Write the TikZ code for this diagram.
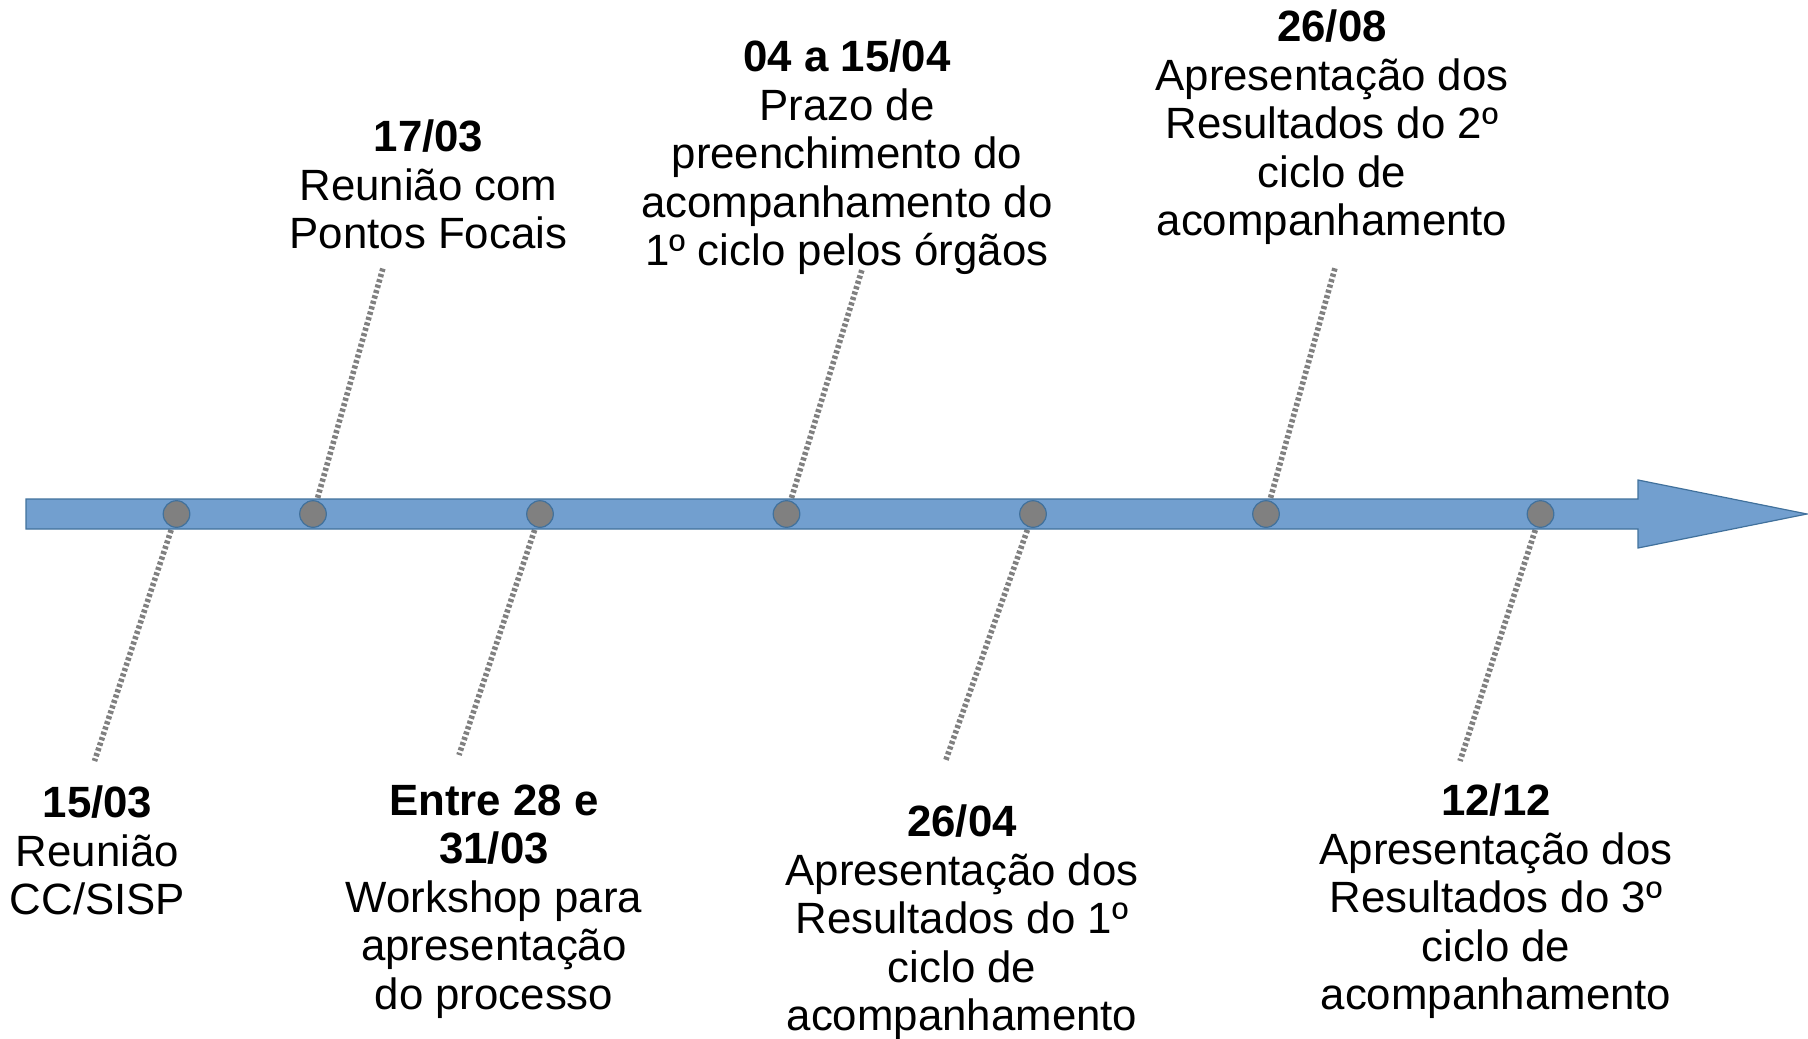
\documentclass[tikz,border=0pt]{standalone}
\usepackage{fontspec}
\setmainfont{Liberation Sans}
\definecolor{shaftfill}{RGB}{114,159,207}
\definecolor{shaftedge}{RGB}{65,113,156}
\definecolor{dotgray}{RGB}{128,128,128}
\tikzset{
  lbl/.style={anchor=north, inner sep=0pt, align=center, text=black,
    font=\fontsize{21.9}{24.25}\selectfont},
  tick/.style={draw=dotgray, line width=2.8pt, dash pattern=on 1.6pt off 1.2pt},
  ev/.style={circle, fill=dotgray, draw=shaftedge, line width=0.6pt,
    minimum size=13.3pt, inner sep=0pt},
  timeline/.style={fill=shaftfill, draw=shaftedge, line width=0.6pt}
}
\newcommand{\firstl}{\rule{0pt}{17pt}}
\begin{document}
\begin{tikzpicture}[x=0.5pt, y=-0.5pt]
\useasboundingbox (0,0) rectangle (1808,1038);
% event positions
\coordinate (p1) at (176.5,514);
\coordinate (p2) at (313,514);
\coordinate (p3) at (540,514);
\coordinate (p4) at (786.5,514);
\coordinate (p5) at (1033,514);
\coordinate (p6) at (1266,514);
\coordinate (p7) at (1540.5,514);
% ends of the dotted ticks
\coordinate (e1) at (94.5,761);
\coordinate (e2) at (383,268);
\coordinate (e3) at (459,755);
\coordinate (e4) at (862.5,268);
\coordinate (e5) at (945.5,761);
\coordinate (e6) at (1335,268);
\coordinate (e7) at (1460,761);
% ticks
\foreach \i in {1,...,7} { \draw[tick] (p\i) -- (e\i); }
% arrow
\path[timeline] (26,499) -- (1638,499) -- (1638,480) -- (1807,514)
  -- (1638,548) -- (1638,529) -- (26,529) -- cycle;
% dots
\foreach \i in {1,...,7} { \node[ev] (d\i) at (p\i) {}; }
% labels
\node[lbl] (t1) at (97.5,783.5) {\firstl\textbf{15/03}\\Reunião\\CC/SISP};
\node[lbl] (t2) at (428.5,117.5) {\firstl\textbf{17/03}\\Reunião com\\Pontos Focais};
\node[lbl] (t3) at (494,781) {\firstl\textbf{Entre 28 e}\\\textbf{31/03}\\Workshop para\\apresentação\\do processo};
\node[lbl] (t4) at (847,37.5) {\firstl\textbf{04 a 15/04}\\Prazo de\\preenchimento do\\acompanhamento do\\1º ciclo pelos órgãos};
\node[lbl] (t5) at (962,802.5) {\firstl\textbf{26/04}\\Apresentação dos\\Resultados do 1º\\ciclo de\\acompanhamento};
\node[lbl] (t6) at (1332,7.5) {\firstl\textbf{26/08}\\Apresentação dos\\Resultados do 2º\\ciclo de\\acompanhamento};
\node[lbl] (t7) at (1496,781.5) {\firstl\textbf{12/12}\\Apresentação dos\\Resultados do 3º\\ciclo de\\acompanhamento};
\end{tikzpicture}
\end{document}
